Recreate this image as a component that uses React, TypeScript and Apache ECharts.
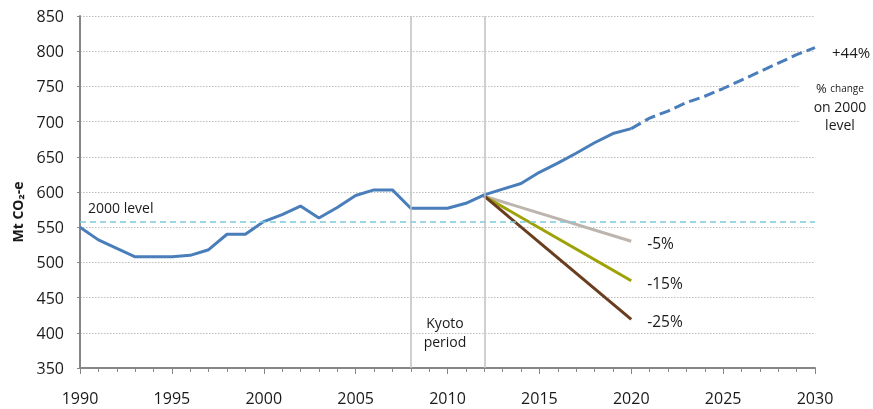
import React, { useEffect, useRef } from "react";
import * as echarts from "echarts";

const histYears = [1990, 1991, 1992, 1993, 1994, 1995, 1996, 1997, 1998, 1999, 2000, 2001, 2002, 2003, 2004, 2005, 2006, 2007, 2008, 2009, 2010, 2011, 2012, 2013, 2014, 2015, 2016, 2017, 2018, 2019, 2020];
const histValues = [550, 532, 520, 508, 508, 508, 510, 518, 540, 540, 558, 568, 580, 563, 578, 595, 603, 603, 577, 577, 577, 584, 596, 604, 612, 628, 641, 655, 670, 683, 690];
const projYears = [2020, 2021, 2022, 2023, 2024, 2025, 2026, 2027, 2028, 2029, 2030];
const projValues = [690, 705, 715, 727, 736, 747, 759, 771, 783, 795, 805];
const scenarioYears = [2012, 2020];
const scenarioMinus5 = [594, 530];
const scenarioMinus15 = [594, 474];
const scenarioMinus25 = [594, 419];
const level2000 = 558;
const kyotoYears = [2008, 2012];

const FONT = "'Open Sans', sans-serif";

function pairs(xs: number[], ys: number[]) {
  return xs.map((x, i) => [x, ys[i]]);
}

export default function App() {
  const ref = useRef<HTMLDivElement>(null);
  useEffect(() => {
    if (!ref.current) return;
    const chart = echarts.init(ref.current, undefined, { renderer: "svg" });
    const scenarioSeries = (name: string, vals: number[], color: string) => ({
      name,
      type: "line",
      data: pairs(scenarioYears, vals),
      symbol: "none",
      lineStyle: { color, width: 3 },
      z: 3,
      endLabel: {
        show: true,
        formatter: name,
        distance: 16,
        fontFamily: FONT,
        fontSize: 15.5,
        color: "#1a1a1a",
        offset: [0, 2],
      },
    });
    chart.setOption({
      animation: false,
      grid: { left: 80, right: 58, top: 16, bottom: 41, containLabel: false },
      xAxis: {
        type: "value",
        min: 1990,
        max: 2030,
        interval: 5,
        axisLine: { show: true, lineStyle: { color: "#868686", width: 2 } },
        axisTick: { show: true, length: 6, lineStyle: { color: "#868686", width: 1 } },
        minorTick: { show: true, splitNumber: 5, length: 4, lineStyle: { color: "#868686", width: 1 } },
        splitLine: { show: false },
        axisLabel: {
          margin: 22,
          fontFamily: FONT,
          fontSize: 16,
          color: "#1a1a1a",
          formatter: (v: number) => String(v),
        },
      },
      yAxis: {
        type: "value",
        min: 350,
        max: 850,
        interval: 50,
        axisLine: { show: true, lineStyle: { color: "#868686", width: 2 } },
        axisTick: { show: true, length: 3, lineStyle: { color: "#868686", width: 1 } },
        splitLine: { show: true, lineStyle: { color: "#bdbdbd", width: 1, type: [1.5, 1.5] } },
        axisLabel: {
          margin: 16,
          fontFamily: FONT,
          fontSize: 16,
          color: "#1a1a1a",
        },
      },
      series: [
        {
          name: "level",
          type: "line",
          data: [],
          symbol: "none",
          markLine: {
            silent: true,
            symbol: "none",
            label: { show: false },
            data: [
              { yAxis: level2000, lineStyle: { color: "#7ccadb", width: 1.5, type: [6, 4] } },
              ...kyotoYears.map((y) => ({ xAxis: y, lineStyle: { color: "#c0c0c0", width: 1.5, type: "solid" } })),
            ],
          },
        },
        scenarioSeries("-5%", scenarioMinus5, "#bdb5ad"),
        scenarioSeries("-15%", scenarioMinus15, "#9fa207"),
        scenarioSeries("-25%", scenarioMinus25, "#6a3d1f"),
        {
          name: "hist",
          type: "line",
          data: pairs(histYears, histValues),
          symbol: "none",
          lineStyle: { color: "#4a7ebb", width: 3 },
          z: 4,
        },
        {
          name: "proj",
          type: "line",
          data: pairs(projYears, projValues),
          symbol: "none",
          lineStyle: { color: "#4a7ebb", width: 3, type: [11, 5] },
          z: 4,
          endLabel: {
            show: true,
            formatter: "+44%",
            distance: 17,
            fontFamily: FONT,
            fontSize: 15,
            color: "#1a1a1a",
            offset: [0, 4],
          },
        },
      ],
      graphic: [
        {
          type: "text",
          x: 17,
          y: 212,
          rotation: Math.PI / 2,
          style: {
            text: "Mt CO₂-e",
            fontFamily: FONT,
            fontSize: 14,
            fontWeight: "bold",
            fill: "#1a1a1a",
            align: "center",
            verticalAlign: "middle",
          },
        },
        {
          type: "text",
          x: 88,
          y: 207,
          style: {
            text: "2000 level",
            fontFamily: FONT,
            fontSize: 14,
            fill: "#1a1a1a",
            align: "left",
            verticalAlign: "middle",
          },
        },
        {
          type: "text",
          x: 445,
          y: 332,
          style: {
            text: "Kyoto\nperiod",
            fontFamily: FONT,
            fontSize: 14,
            lineHeight: 19,
            fill: "#1a1a1a",
            align: "center",
            verticalAlign: "middle",
          },
        },
        {
          type: "rect",
          shape: { x: 800, y: 78, width: 72, height: 58 },
          style: { fill: "#ffffff" },
          z: 5,
        },
        {
          type: "text",
          x: 840,
          y: 106,
          z: 6,
          style: {
            text: "{p|% }{s|change}\n{b|on 2000}\n{b|level}",
            fontFamily: FONT,
            fill: "#1a1a1a",
            align: "center",
            verticalAlign: "middle",
            rich: {
              p: { fontFamily: FONT, fontSize: 13, lineHeight: 18, fill: "#1a1a1a" },
              s: { fontFamily: FONT, fontSize: 10, lineHeight: 18, fill: "#1a1a1a" },
              b: { fontFamily: FONT, fontSize: 14, lineHeight: 18, fill: "#1a1a1a" },
            },
          },
        },
      ],
    });
    return () => chart.dispose();
  }, []);
  return <div ref={ref} style={{ position: "fixed", left: 0, top: 0, width: 873, height: 409 }} />;
}
